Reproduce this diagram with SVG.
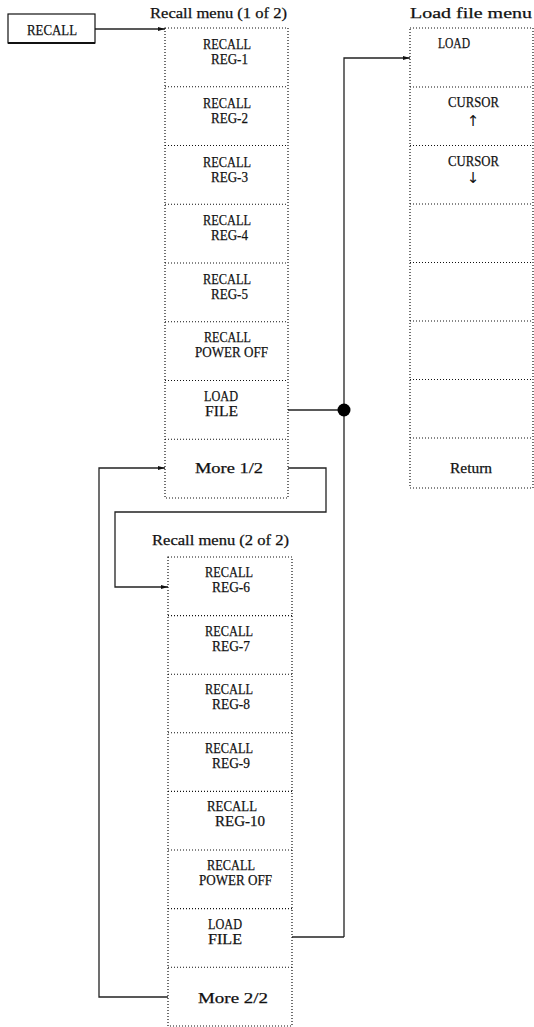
<svg xmlns="http://www.w3.org/2000/svg" width="534" height="1027" viewBox="0 0 534 1027">
<style>
text{font-family:"Liberation Serif","DejaVu Serif",serif;font-size:15.5px;fill:#111;stroke:#111;stroke-width:0.25}
.ar{font-family:"DejaVu Sans",sans-serif;font-size:15px;text-anchor:middle;stroke-width:0}
.box{fill:none;stroke:#111;stroke-width:1.2;stroke-dasharray:1 2}
.div{stroke:#111;stroke-width:1.1;stroke-dasharray:1 2}
.con{fill:none;stroke:#222;stroke-width:1.3}
.solid{fill:#fff;stroke:#111;stroke-width:1.2}
</style>
<defs>
<marker id="ah" markerUnits="userSpaceOnUse" markerWidth="8" markerHeight="6" refX="7" refY="3" orient="auto">
<path d="M0,1 L7,3 L0,5 z" fill="#111"/>
</marker>
</defs>

<g id="connectors">
<line class="con" x1="95" y1="29" x2="165" y2="29" marker-end="url(#ah)"/>
<line class="con" x1="288" y1="410" x2="344" y2="410"/>
<polyline class="con" points="344,937 344,58 410,58" marker-end="url(#ah)"/>
<line class="con" x1="292" y1="937" x2="344" y2="937"/>
<polyline class="con" points="288,468 326,468 326,512 115,512 115,587 168,587" marker-end="url(#ah)"/>
<polyline class="con" points="168,997 99,997 99,468 165,468" marker-end="url(#ah)"/>
<circle cx="344" cy="410" r="6.5" fill="#000"/>
</g>

<g id="recall-key">
<rect class="solid" x="8" y="14" width="87" height="29"/>
<line x1="8" y1="43" x2="95" y2="43" stroke="#111" stroke-width="1.8"/>
<text x="27" y="35" textLength="50" lengthAdjust="spacingAndGlyphs">RECALL</text>
</g>

<g id="recall-menu-1">
<text x="150" y="18" textLength="137" lengthAdjust="spacingAndGlyphs">Recall menu (1 of 2)</text>
<rect class="box" x="165" y="28" width="123" height="470"/>
<line class="div" x1="165" y1="86.75" x2="288" y2="86.75"/>
<line class="div" x1="165" y1="145.5" x2="288" y2="145.5"/>
<line class="div" x1="165" y1="204.25" x2="288" y2="204.25"/>
<line class="div" x1="165" y1="263" x2="288" y2="263"/>
<line class="div" x1="165" y1="321.75" x2="288" y2="321.75"/>
<line class="div" x1="165" y1="380.5" x2="288" y2="380.5"/>
<line class="div" x1="165" y1="439.25" x2="288" y2="439.25"/>
<g id="m1-reg1"><text x="203" y="49" textLength="48" lengthAdjust="spacingAndGlyphs">RECALL</text><text x="211" y="64" textLength="37" lengthAdjust="spacingAndGlyphs">REG-1</text></g>
<g id="m1-reg2"><text x="203" y="107.75" textLength="48" lengthAdjust="spacingAndGlyphs">RECALL</text><text x="211" y="122.75" textLength="37" lengthAdjust="spacingAndGlyphs">REG-2</text></g>
<g id="m1-reg3"><text x="203" y="166.5" textLength="48" lengthAdjust="spacingAndGlyphs">RECALL</text><text x="211" y="181.5" textLength="37" lengthAdjust="spacingAndGlyphs">REG-3</text></g>
<g id="m1-reg4"><text x="203" y="225.25" textLength="48" lengthAdjust="spacingAndGlyphs">RECALL</text><text x="211" y="240.25" textLength="37" lengthAdjust="spacingAndGlyphs">REG-4</text></g>
<g id="m1-reg5"><text x="203" y="284" textLength="48" lengthAdjust="spacingAndGlyphs">RECALL</text><text x="211" y="299" textLength="37" lengthAdjust="spacingAndGlyphs">REG-5</text></g>
<g id="m1-poweroff"><text x="204" y="342" textLength="47" lengthAdjust="spacingAndGlyphs">RECALL</text><text x="195" y="357" textLength="73" lengthAdjust="spacingAndGlyphs">POWER OFF</text></g>
<g id="m1-loadfile"><text x="204" y="401" textLength="34" lengthAdjust="spacingAndGlyphs">LOAD</text><text x="205" y="416" textLength="33" lengthAdjust="spacingAndGlyphs">FILE</text></g>
<g id="m1-more"><text x="195" y="473" textLength="68" lengthAdjust="spacingAndGlyphs">More 1/2</text></g>
</g>

<g id="load-file-menu">
<text x="410" y="18" textLength="122" lengthAdjust="spacingAndGlyphs">Load file menu</text>
<rect class="box" x="410" y="28" width="123" height="460"/>
<line class="div" x1="410" y1="87" x2="533" y2="87"/>
<line class="div" x1="410" y1="145.5" x2="533" y2="145.5"/>
<line class="div" x1="410" y1="204" x2="533" y2="204"/>
<line class="div" x1="410" y1="262.5" x2="533" y2="262.5"/>
<line class="div" x1="410" y1="321" x2="533" y2="321"/>
<line class="div" x1="410" y1="379.5" x2="533" y2="379.5"/>
<line class="div" x1="410" y1="438" x2="533" y2="438"/>
<g id="lf-load"><text x="438" y="48" textLength="32" lengthAdjust="spacingAndGlyphs">LOAD</text></g>
<g id="lf-up"><text x="448" y="107" textLength="51" lengthAdjust="spacingAndGlyphs">CURSOR</text><text class="ar" x="473" y="126">↑</text></g>
<g id="lf-down"><text x="448" y="166" textLength="51" lengthAdjust="spacingAndGlyphs">CURSOR</text><text class="ar" x="473" y="183">↓</text></g>
<g id="lf-return"><text x="450" y="473" textLength="42" lengthAdjust="spacingAndGlyphs">Return</text></g>
</g>

<g id="recall-menu-2">
<text x="152" y="545" textLength="137" lengthAdjust="spacingAndGlyphs">Recall menu (2 of 2)</text>
<rect class="box" x="168" y="557" width="124" height="469"/>
<line class="div" x1="168" y1="615.6" x2="292" y2="615.6"/>
<line class="div" x1="168" y1="674.2" x2="292" y2="674.2"/>
<line class="div" x1="168" y1="732.8" x2="292" y2="732.8"/>
<line class="div" x1="168" y1="791.4" x2="292" y2="791.4"/>
<line class="div" x1="168" y1="850" x2="292" y2="850"/>
<line class="div" x1="168" y1="908.6" x2="292" y2="908.6"/>
<line class="div" x1="168" y1="967.2" x2="292" y2="967.2"/>
<g id="m2-reg6"><text x="205" y="577" textLength="48" lengthAdjust="spacingAndGlyphs">RECALL</text><text x="212" y="592" textLength="38" lengthAdjust="spacingAndGlyphs">REG-6</text></g>
<g id="m2-reg7"><text x="205" y="635.6" textLength="48" lengthAdjust="spacingAndGlyphs">RECALL</text><text x="212" y="650.6" textLength="38" lengthAdjust="spacingAndGlyphs">REG-7</text></g>
<g id="m2-reg8"><text x="205" y="694.2" textLength="48" lengthAdjust="spacingAndGlyphs">RECALL</text><text x="212" y="709.2" textLength="38" lengthAdjust="spacingAndGlyphs">REG-8</text></g>
<g id="m2-reg9"><text x="205" y="752.8" textLength="48" lengthAdjust="spacingAndGlyphs">RECALL</text><text x="212" y="767.8" textLength="38" lengthAdjust="spacingAndGlyphs">REG-9</text></g>
<g id="m2-reg10"><text x="207" y="811.4" textLength="50" lengthAdjust="spacingAndGlyphs">RECALL</text><text x="215" y="826.4" textLength="50" lengthAdjust="spacingAndGlyphs">REG-10</text></g>
<g id="m2-poweroff"><text x="207" y="870" textLength="48" lengthAdjust="spacingAndGlyphs">RECALL</text><text x="199" y="885" textLength="73" lengthAdjust="spacingAndGlyphs">POWER OFF</text></g>
<g id="m2-loadfile"><text x="208" y="928.6" textLength="34" lengthAdjust="spacingAndGlyphs">LOAD</text><text x="208" y="944" textLength="34" lengthAdjust="spacingAndGlyphs">FILE</text></g>
<g id="m2-more"><text x="198" y="1003" textLength="70" lengthAdjust="spacingAndGlyphs">More 2/2</text></g>
</g>
</svg>
